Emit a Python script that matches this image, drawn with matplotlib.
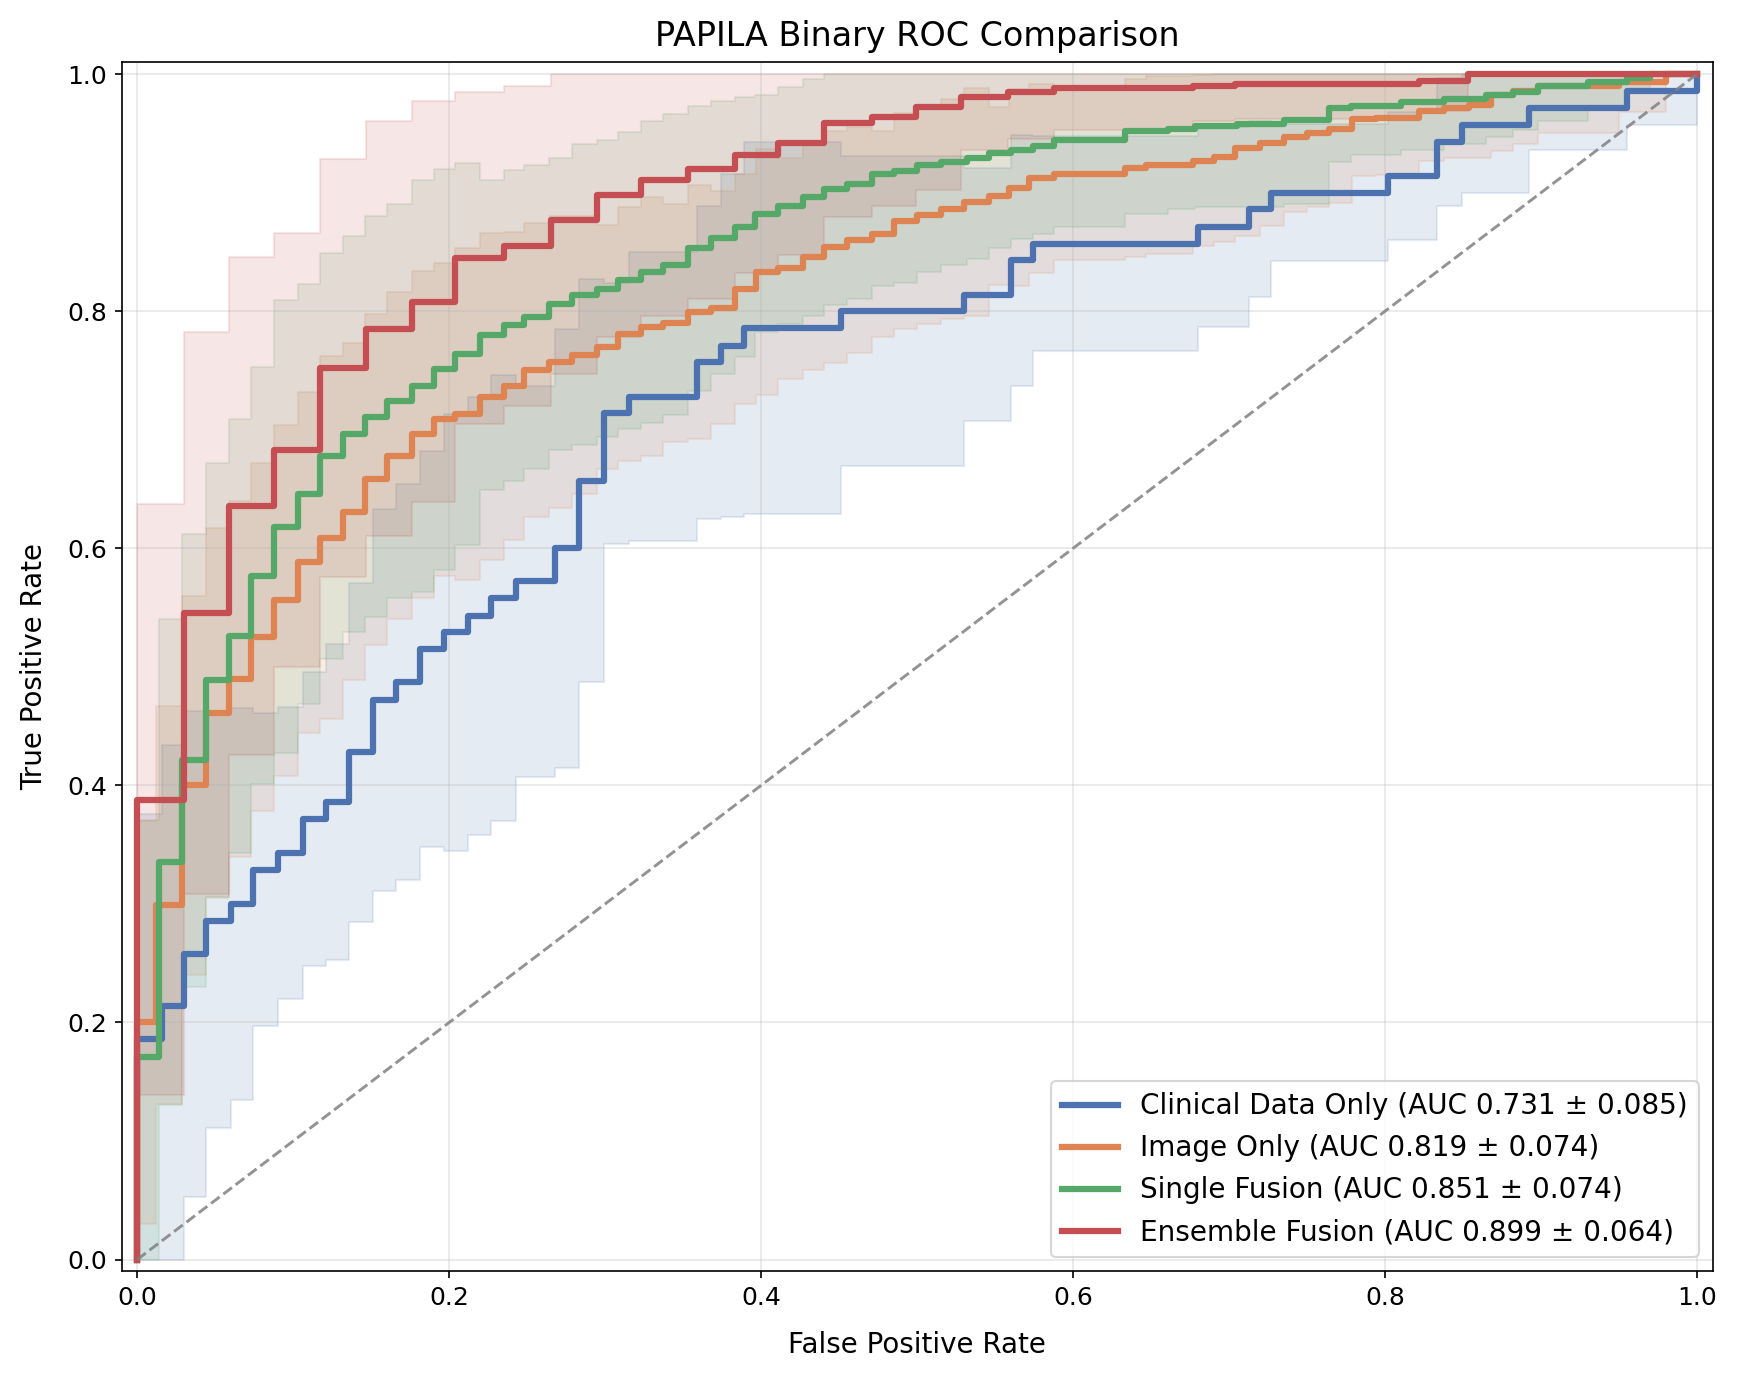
import numpy as np
import matplotlib
matplotlib.use("Agg")
import matplotlib.pyplot as plt

# ---------------- data ----------------
labels = [
    "Clinical Data Only (AUC 0.731 \u00b1 0.085)",
    "Image Only (AUC 0.819 \u00b1 0.074)",
    "Single Fusion (AUC 0.851 \u00b1 0.074)",
    "Ensemble Fusion (AUC 0.899 \u00b1 0.064)",
]
colors = ["#4C72B0", "#DD8452", "#55A868", "#C44E52"]

# Clinical Data Only
fpr_clin = [0.0, 0.0, 0.016, 0.030, 0.044, 0.060, 0.074, 0.090, 0.106, 0.121, 0.136, 0.151,
            0.166, 0.181, 0.197, 0.212, 0.227, 0.243, 0.268, 0.283, 0.299, 0.315, 0.359, 0.374,
            0.389, 0.451, 0.530, 0.560, 0.574, 0.680, 0.713, 0.727, 0.802, 0.833, 0.849, 0.892,
            0.955, 1.0]
tpr_clin = [0.0, 0.186, 0.214, 0.258, 0.286, 0.300, 0.329, 0.343, 0.372, 0.386, 0.428, 0.472,
            0.487, 0.515, 0.529, 0.543, 0.558, 0.572, 0.600, 0.657, 0.714, 0.728, 0.757, 0.771,
            0.786, 0.800, 0.814, 0.843, 0.857, 0.871, 0.886, 0.900, 0.914, 0.943, 0.957, 0.971,
            0.986, 1.0]
std_clin = [0.0, 0.19, 0.22, 0.205, 0.175, 0.165, 0.132, 0.123, 0.124, 0.133, 0.143, 0.161,
            0.167, 0.167, 0.184, 0.185, 0.188, 0.165, 0.185, 0.170, 0.110, 0.122, 0.132, 0.145,
            0.157, 0.131, 0.107, 0.106, 0.091, 0.084, 0.074, 0.058, 0.054, 0.054, 0.057, 0.035,
            0.029, 0.0]

# Image Only
fpr_img = [0.0, 0.0, 0.012, 0.029, 0.044, 0.059, 0.073, 0.088, 0.103, 0.117,
           0.132, 0.146, 0.160, 0.176, 0.190, 0.204, 0.220, 0.235, 0.248, 0.264,
           0.279, 0.295, 0.308, 0.323, 0.337, 0.353, 0.368, 0.383, 0.397, 0.411,
           0.427, 0.440, 0.455, 0.471, 0.485, 0.500, 0.515, 0.530, 0.546, 0.559,
           0.572, 0.588, 0.633, 0.647, 0.677, 0.690, 0.704, 0.720, 0.735, 0.750,
           0.764, 0.779, 0.794, 0.822, 0.838, 0.854, 0.868, 0.882, 0.898, 0.950,
           0.980, 1.0]
tpr_img = [0.0, 0.200, 0.299, 0.400, 0.461, 0.490, 0.525, 0.556, 0.588, 0.609,
           0.631, 0.658, 0.678, 0.696, 0.709, 0.713, 0.728, 0.737, 0.750, 0.757,
           0.763, 0.770, 0.781, 0.787, 0.790, 0.799, 0.803, 0.819, 0.833, 0.836,
           0.846, 0.854, 0.860, 0.865, 0.876, 0.881, 0.886, 0.892, 0.897, 0.904,
           0.912, 0.916, 0.921, 0.923, 0.927, 0.930, 0.938, 0.942, 0.947, 0.950,
           0.954, 0.962, 0.963, 0.969, 0.971, 0.974, 0.982, 0.986, 0.990, 0.993,
           1.0, 1.0]
std_img = [0.0, 0.17, 0.168, 0.16, 0.156, 0.15, 0.147, 0.148, 0.144, 0.153,
           0.142, 0.14, 0.138, 0.138, 0.132, 0.14, 0.138, 0.13, 0.124, 0.123,
           0.117, 0.103, 0.107, 0.109, 0.10, 0.107, 0.098, 0.097, 0.104, 0.093,
           0.096, 0.098, 0.095, 0.087, 0.091, 0.092, 0.093, 0.096, 0.075, 0.083,
           0.08, 0.073, 0.075, 0.075, 0.072, 0.072, 0.075, 0.07, 0.063, 0.062,
           0.063, 0.048, 0.048, 0.042, 0.042, 0.045, 0.047, 0.045, 0.04, 0.025,
           0.0, 0.0]

# Single Fusion
fpr_single = [0.0, 0.0, 0.014, 0.029, 0.044, 0.059, 0.073, 0.088, 0.103, 0.117,
              0.132, 0.146, 0.160, 0.176, 0.190, 0.204, 0.220, 0.235, 0.248, 0.264,
              0.279, 0.295, 0.308, 0.323, 0.337, 0.353, 0.368, 0.383, 0.396, 0.411,
              0.427, 0.440, 0.455, 0.471, 0.485, 0.500, 0.515, 0.532, 0.546, 0.560,
              0.574, 0.588, 0.633, 0.661, 0.678, 0.705, 0.735, 0.764, 0.778, 0.810,
              0.838, 0.865, 0.882, 0.898, 0.930, 0.955, 0.970, 1.0]
tpr_single = [0.0, 0.171, 0.335, 0.421, 0.489, 0.526, 0.577, 0.618, 0.646, 0.678,
              0.696, 0.711, 0.724, 0.737, 0.751, 0.764, 0.780, 0.788, 0.795, 0.806,
              0.814, 0.819, 0.826, 0.833, 0.839, 0.853, 0.862, 0.871, 0.882, 0.889,
              0.896, 0.903, 0.907, 0.916, 0.918, 0.923, 0.926, 0.929, 0.933, 0.936,
              0.939, 0.944, 0.952, 0.954, 0.956, 0.958, 0.961, 0.971, 0.973, 0.976,
              0.979, 0.982, 0.985, 0.990, 0.993, 0.997, 1.0, 1.0]
std_single = [0.0, 0.2, 0.205, 0.191, 0.183, 0.183, 0.176, 0.191, 0.177, 0.171,
              0.167, 0.169, 0.166, 0.174, 0.169, 0.161, 0.131, 0.131, 0.128, 0.123,
              0.127, 0.125, 0.125, 0.127, 0.127, 0.12, 0.115, 0.11, 0.10, 0.10,
              0.10, 0.098, 0.097, 0.095, 0.094, 0.09, 0.087, 0.085, 0.08, 0.075,
              0.074, 0.073, 0.07, 0.068, 0.068, 0.07, 0.071, 0.045, 0.041, 0.04,
              0.038, 0.035, 0.032, 0.03, 0.02, 0.01, 0.0, 0.0]

# Ensemble Fusion
fpr_ens = [0.0, 0.0, 0.030, 0.059, 0.088, 0.117, 0.147, 0.176, 0.204, 0.235,
           0.265, 0.295, 0.323, 0.353, 0.383, 0.411, 0.440, 0.471, 0.499, 0.528,
           0.558, 0.588, 0.677, 0.704, 0.822, 0.853, 1.0]
tpr_ens = [0.0, 0.388, 0.545, 0.636, 0.683, 0.752, 0.785, 0.808, 0.845, 0.855,
           0.877, 0.898, 0.911, 0.920, 0.932, 0.942, 0.959, 0.964, 0.972, 0.981,
           0.985, 0.988, 0.990, 0.992, 0.994, 1.0, 1.0]
std_ens = [0.0, 0.249, 0.237, 0.21, 0.183, 0.176, 0.175, 0.169, 0.14, 0.135,
           0.13, 0.12, 0.115, 0.11, 0.10, 0.095, 0.08, 0.075, 0.07, 0.045,
           0.04, 0.035, 0.03, 0.03, 0.025, 0.0, 0.0]

series = [
    (fpr_clin, tpr_clin, std_clin),
    (fpr_img, tpr_img, std_img),
    (fpr_single, tpr_single, std_single),
    (fpr_ens, tpr_ens, std_ens),
]

# ---------------- plot ----------------
fig = plt.figure(figsize=(1737 / 150, 1382 / 150), dpi=150)
ax = fig.add_axes([0.070, 0.080, 0.916, 0.875])

for (fpr, tpr, std), c in zip(series, colors):
    fpr = np.asarray(fpr)
    tpr = np.asarray(tpr)
    std = np.asarray(std)
    lo = np.clip(tpr - std, 0, 1)
    hi = np.clip(tpr + std, 0, 1)
    ax.fill_between(fpr, lo, hi, step="post", color=c, alpha=0.14, linewidth=1.0)

for (fpr, tpr, std), c, lab in zip(series, colors, labels):
    ax.step(fpr, tpr, where="post", color=c, lw=3.0, label=lab)

ax.plot([0, 1], [0, 1], ls="--", color="gray", lw=1.4, alpha=0.85)

ax.set_xlim(-0.01, 1.01)
ax.set_ylim(-0.01, 1.01)
ax.grid(True, alpha=0.3)
ax.set_xlabel("False Positive Rate", fontsize=13.3, labelpad=10)
ax.set_ylabel("True Positive Rate", fontsize=13.3, labelpad=9)
ax.set_title("PAPILA Binary ROC Comparison", fontsize=16, pad=8)
ax.tick_params(labelsize=12)
ax.legend(loc="lower right", fontsize=13.4)

fig.savefig("out.png", dpi=150)
